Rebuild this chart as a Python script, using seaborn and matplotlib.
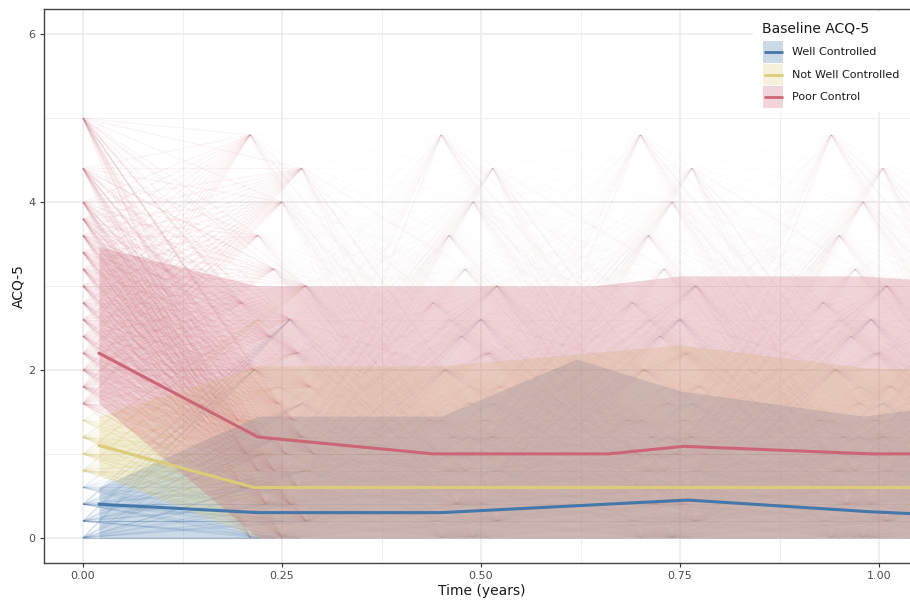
import numpy as np
import pandas as pd
import matplotlib
matplotlib.use("Agg")
import matplotlib.pyplot as plt
import seaborn as sns
from matplotlib.collections import LineCollection
from matplotlib.patches import Rectangle
from matplotlib.lines import Line2D
from matplotlib.ticker import MultipleLocator

# ---- groups and colours -------------------------------------------------
GROUPS = ["Well Controlled", "Not Well Controlled", "Poor Control"]
COLORS = ["#4477AA", "#DDCC77", "#CC6677"]

# ---- individual trajectories --------------------------------------------
# nominal visit times (years); each follow-up score carries its own offset
VISIT_TIMES = [0.0, 0.24, 0.48, 0.73, 0.97, 1.21]

WELL_BASE = [0.0, 0.0, 0.2, 0.2, 0.4, 0.4, 0.6]
WELL_FOLLOW = [0.0, 0.0, 0.0, 0.2, 0.2, 0.2, 0.4, 0.4, 0.6, 0.6, 0.8, 1.0,
               1.2, 1.6, 2.0, 2.6]
WELL_OFFSET = [-0.02, 0.03, 0.0, -0.04, 0.01, 0.045, -0.01, 0.025, -0.03,
               0.015, 0.04, -0.015, 0.005, 0.035, -0.025, 0.02]

NWC_BASE = [0.8, 0.8, 1.0, 1.0, 1.2, 1.2, 1.4]
NWC_FOLLOW = [0.0, 0.2, 0.2, 0.4, 0.4, 0.6, 0.6, 0.6, 0.8, 0.8, 1.0, 1.0,
              1.2, 1.4, 1.8, 2.2, 2.6, 3.0]
NWC_OFFSET = [0.02, -0.035, 0.04, 0.0, -0.015, 0.03, -0.04, 0.01, 0.045,
              -0.025, 0.015, -0.005, 0.035, -0.03, 0.005, 0.025, -0.02, 0.04]

PC_BASE = [1.6, 1.8, 2.0, 2.2, 2.4, 2.6, 2.8, 3.0, 3.2, 3.4, 3.6, 3.8, 4.0,
           4.4, 5.0]
PC_FOLLOW = [0.0, 0.0, 0.2, 0.4, 0.4, 0.6, 0.6, 0.8, 0.8, 1.0, 1.0, 1.0,
             1.2, 1.2, 1.4, 1.4, 1.6, 1.8, 2.0, 2.2, 2.4, 2.6, 2.8, 3.0,
             3.2, 3.6, 4.0, 4.4, 4.8]
PC_OFFSET = [0.01, -0.03, 0.04, -0.01, 0.02, -0.04, 0.03, 0.0, -0.02, 0.05,
             -0.035, 0.015, 0.035, -0.015, 0.025, -0.045, 0.005, 0.045,
             -0.025, 0.03, -0.005, 0.02, -0.04, 0.04, 0.0, -0.02, 0.01,
             0.035, -0.03]

# ---- summary band (lower/upper quantiles) per group ---------------------
WELL_T = [0.02, 0.22, 0.45, 0.62, 0.75, 0.98, 1.06]
WELL_LO = [0.0, 0.0, 0.0, 0.0, 0.0, 0.0, 0.0]
WELL_HI = [0.6, 1.45, 1.45, 2.13, 1.75, 1.45, 1.55]

NWC_T = [0.02, 0.22, 0.45, 0.75, 0.98, 1.06]
NWC_LO = [0.75, 0.0, 0.0, 0.0, 0.0, 0.0]
NWC_HI = [1.45, 2.05, 2.05, 2.3, 2.03, 2.0]

PC_T = [0.02, 0.22, 0.45, 0.64, 0.75, 0.98, 1.06]
PC_LO = [1.6, 0.0, 0.0, 0.0, 0.0, 0.0, 0.0]
PC_HI = [3.47, 3.0, 3.0, 3.0, 3.12, 3.12, 3.07]

# ---- medians -------------------------------------------------------------
WELL_MED_T = [0.02, 0.22, 0.45, 0.76, 0.99, 1.06]
WELL_MED = [0.4, 0.3, 0.3, 0.45, 0.31, 0.28]

NWC_MED_T = [0.02, 0.215, 0.6, 1.06]
NWC_MED = [1.1, 0.6, 0.6, 0.6]

PC_MED_T = [0.02, 0.22, 0.44, 0.66, 0.755, 0.99, 1.06]
PC_MED = [2.2, 1.2, 1.0, 1.0, 1.09, 1.0, 1.0]

X_TICKS = [0.0, 0.25, 0.5, 0.75, 1.0]
X_TICK_LABELS = ["0.00", "0.25", "0.50", "0.75", "1.00"]
Y_TICKS = [0, 2, 4, 6]

FIG_W, FIG_H = 910, 602


def baseline_segments(base, follow, offset):
    """Segments from each baseline score to each first follow-up score."""
    t1 = VISIT_TIMES[1]
    return [[(0.0, b), (t1 + d, f)]
            for b in base for f, d in zip(follow, offset)]


def followup_segments(follow, offset):
    """Segments joining follow-up scores at consecutive visits."""
    nodes = list(zip(follow, offset))
    segs = []
    for k in range(1, len(VISIT_TIMES) - 1):
        for a, da in nodes:
            for c, dc in nodes:
                segs.append([(VISIT_TIMES[k] + da, a),
                             (VISIT_TIMES[k + 1] + dc, c)])
    return segs


def fx(px):
    return px / FIG_W


def fy(py):
    return 1 - py / FIG_H


sns.set_theme(style="white")
plt.rcParams["font.family"] = ["DejaVu Sans"]

fig = plt.figure(figsize=(FIG_W / 100, FIG_H / 100), dpi=100)
ax = fig.add_axes([fx(44), 39 / FIG_H, 876 / FIG_W, 554 / FIG_H])

# grid (theme_bw style)
ax.set_axisbelow(True)
ax.xaxis.set_major_locator(plt.FixedLocator(X_TICKS))
ax.xaxis.set_minor_locator(MultipleLocator(0.125))
ax.yaxis.set_major_locator(plt.FixedLocator(Y_TICKS))
ax.yaxis.set_minor_locator(MultipleLocator(1))
ax.grid(which="major", color="#EBEBEB", lw=1.1)
ax.grid(which="minor", color="#F0F0F0", lw=0.7)

# spaghetti of individual trajectories
webs = [(WELL_BASE, WELL_FOLLOW, WELL_OFFSET),
        (NWC_BASE, NWC_FOLLOW, NWC_OFFSET),
        (PC_BASE, PC_FOLLOW, PC_OFFSET)]
for (base, follow, offset), col in zip(webs, COLORS):
    ax.add_collection(LineCollection(followup_segments(follow, offset),
                                     colors=col, linewidths=0.7, alpha=0.015,
                                     zorder=1))
    ax.add_collection(LineCollection(baseline_segments(base, follow, offset),
                                     colors=col, linewidths=0.8, alpha=0.08,
                                     zorder=1))

# quantile ribbons
bands = [(WELL_T, WELL_LO, WELL_HI), (NWC_T, NWC_LO, NWC_HI),
         (PC_T, PC_LO, PC_HI)]
for (t, lo, hi), col in zip(bands, COLORS):
    ax.fill_between(t, lo, hi, color=col, alpha=0.27, lw=0, zorder=2)

# median lines
med = pd.concat([
    pd.DataFrame({"time": WELL_MED_T, "acq": WELL_MED, "group": GROUPS[0]}),
    pd.DataFrame({"time": NWC_MED_T, "acq": NWC_MED, "group": GROUPS[1]}),
    pd.DataFrame({"time": PC_MED_T, "acq": PC_MED, "group": GROUPS[2]}),
], ignore_index=True)
sns.lineplot(data=med, x="time", y="acq", hue="group", hue_order=GROUPS,
             palette=COLORS, sort=False, estimator=None, lw=2.2,
             legend=False, ax=ax, zorder=3)

ax.set_xlim(-0.049, 1.0515)
ax.set_ylim(-0.3, 6.3)
ax.set_xticks(X_TICKS)
ax.set_xticklabels(X_TICK_LABELS)
ax.set_yticks(Y_TICKS)

for side in ["left", "bottom", "top"]:
    ax.spines[side].set_visible(True)
    ax.spines[side].set_color("#444444")
    ax.spines[side].set_linewidth(1.0)
ax.spines["right"].set_visible(False)

ax.tick_params(axis="both", which="major", direction="out", length=3,
               width=0.8, color="#333333", labelsize=8,
               labelcolor="#4D4D4D", pad=3, left=True, bottom=True)
ax.tick_params(axis="both", which="minor", length=0)

ax.set_xlabel("Time (years)", fontsize=10, color="#1A1A1A", labelpad=2)
ax.set_ylabel("ACQ-5", fontsize=10, color="#1A1A1A", labelpad=2.5)

# legend box drawn in figure pixel positions
fig.patches.append(Rectangle((fx(753), fy(112)), fx(910) - fx(753),
                             fy(12) - fy(112), transform=fig.transFigure,
                             facecolor="white", edgecolor="none", zorder=5))
fig.text(fx(762), fy(28), "Baseline ACQ-5", fontsize=10, color="#1A1A1A",
         ha="left", va="center", zorder=6)
for i, (label, col) in enumerate(zip(GROUPS, COLORS)):
    yc = 52 + 22.5 * i
    fig.patches.append(Rectangle((fx(763), fy(yc + 10.5)), fx(20),
                                 fy(yc - 10.5) - fy(yc + 10.5),
                                 transform=fig.transFigure, facecolor=col,
                                 alpha=0.27, edgecolor="none", zorder=6))
    fig.lines.append(Line2D([fx(764.5), fx(781.5)], [fy(yc), fy(yc)],
                            transform=fig.transFigure, color=col, lw=2,
                            zorder=7))
    fig.text(fx(792), fy(yc), label, fontsize=8, color="#1A1A1A",
             ha="left", va="center", zorder=7)

fig.savefig("out.png", dpi=100)
